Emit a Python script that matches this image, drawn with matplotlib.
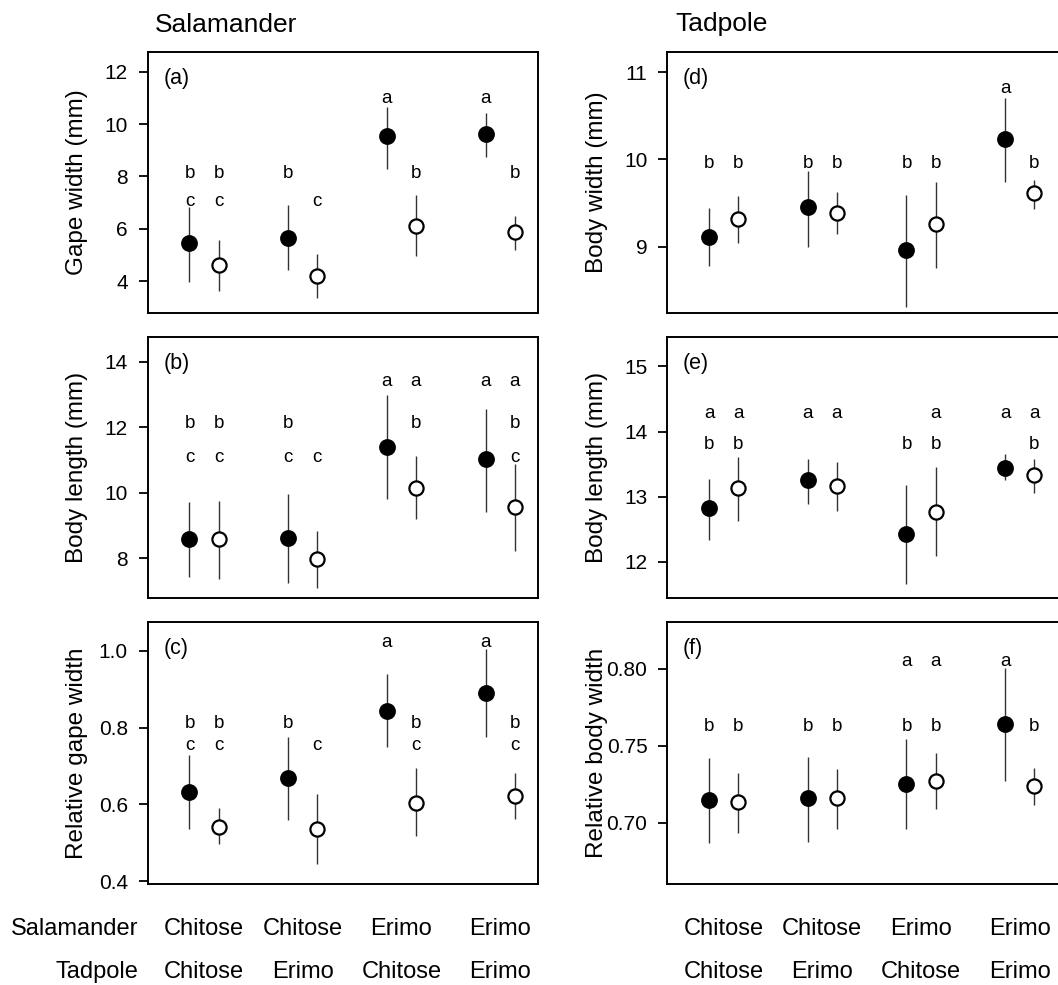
import matplotlib
matplotlib.use('Agg')
import matplotlib.pyplot as plt
import matplotlib.transforms as mtransforms
import numpy as np

plt.rcParams['font.family'] = ['Liberation Sans', 'DejaVu Sans']

# ---------------- data ----------------
groups = [1, 2, 3, 4]
salamander_origin = ['Chitose', 'Chitose', 'Erimo', 'Erimo']
tadpole_origin = ['Chitose', 'Erimo', 'Chitose', 'Erimo']

# (a) Gape width (mm) - salamander
a_filled_mean = [5.44, 5.66, 9.54, 9.61]
a_filled_lo = [3.96, 4.42, 8.27, 8.75]
a_filled_hi = [6.84, 6.91, 10.66, 10.41]
a_open_mean = [4.61, 4.19, 6.12, 5.86]
a_open_lo = [3.63, 3.34, 4.96, 5.19]
a_open_hi = [5.57, 5.03, 7.29, 6.49]

# (b) Body length (mm) - salamander
b_filled_mean = [8.58, 8.61, 11.39, 11.03]
b_filled_lo = [7.42, 7.25, 9.81, 9.43]
b_filled_hi = [9.73, 9.97, 13.00, 12.56]
b_open_mean = [8.58, 7.97, 10.16, 9.58]
b_open_lo = [7.36, 7.08, 9.19, 8.23]
b_open_hi = [9.75, 8.84, 11.13, 10.88]

# (c) Relative gape width - salamander
c_filled_mean = [0.633, 0.670, 0.844, 0.890]
c_filled_lo = [0.535, 0.559, 0.750, 0.775]
c_filled_hi = [0.730, 0.776, 0.939, 1.004]
c_open_mean = [0.542, 0.537, 0.605, 0.622]
c_open_lo = [0.496, 0.446, 0.519, 0.561]
c_open_hi = [0.590, 0.627, 0.694, 0.683]

# (d) Body width (mm) - tadpole
d_filled_mean = [9.11, 9.45, 8.96, 10.23]
d_filled_lo = [8.78, 9.00, 8.31, 9.74]
d_filled_hi = [9.44, 9.87, 9.59, 10.70]
d_open_mean = [9.32, 9.39, 9.26, 9.61]
d_open_lo = [9.04, 9.14, 8.75, 9.43]
d_open_hi = [9.58, 9.63, 9.74, 9.76]

# (e) Body length (mm) - tadpole
e_filled_mean = [12.82, 13.25, 12.43, 13.44]
e_filled_lo = [12.33, 12.89, 11.66, 13.25]
e_filled_hi = [13.27, 13.58, 13.18, 13.65]
e_open_mean = [13.13, 13.16, 12.77, 13.33]
e_open_lo = [12.62, 12.78, 12.09, 13.06]
e_open_hi = [13.61, 13.54, 13.46, 13.58]

# (f) Relative body width - tadpole
f_filled_mean = [0.7146, 0.7157, 0.7250, 0.7639]
f_filled_lo = [0.6864, 0.6876, 0.6961, 0.7268]
f_filled_hi = [0.7418, 0.7424, 0.7546, 0.8005]
f_open_mean = [0.7131, 0.7157, 0.7268, 0.7235]
f_open_lo = [0.6929, 0.6961, 0.7085, 0.7115]
f_open_hi = [0.7324, 0.7348, 0.7450, 0.7355]

# significance letters: order F1, O1, F2, O2, F3, O3, F4, O4
a_letters_row_a = ['', '', '', '', 'a', '', 'a', '']
a_letters_row_b = ['b', 'b', 'b', '', '', 'b', '', 'b']
a_letters_row_c = ['c', 'c', '', 'c', '', '', '', '']
b_letters_row_a = ['', '', '', '', 'a', 'a', 'a', 'a']
b_letters_row_b = ['b', 'b', 'b', '', '', 'b', '', 'b']
b_letters_row_c = ['c', 'c', 'c', 'c', '', '', '', 'c']
c_letters_row_a = ['', '', '', '', 'a', '', 'a', '']
c_letters_row_b = ['b', 'b', 'b', '', '', 'b', '', 'b']
c_letters_row_c = ['c', 'c', '', 'c', '', 'c', '', 'c']
d_letters_row_a = ['', '', '', '', '', '', 'a', '']
d_letters_row_b = ['b', 'b', 'b', 'b', 'b', 'b', '', 'b']
e_letters_row_a = ['a', 'a', 'a', 'a', '', 'a', 'a', 'a']
e_letters_row_b = ['b', 'b', '', '', 'b', 'b', '', 'b']
f_letters_row_a = ['', '', '', '', 'a', 'a', 'a', '']
f_letters_row_b = ['b', 'b', 'b', 'b', 'b', 'b', '', 'b']

panels = [
    dict(tag='(a)', ylabel='Gape width (mm)', ylim=(2.77, 12.77), yticks=[4, 6, 8, 10, 12],
         yticklabels=['4', '6', '8', '10', '12'],
         fm=a_filled_mean, flo=a_filled_lo, fhi=a_filled_hi,
         om=a_open_mean, olo=a_open_lo, ohi=a_open_hi,
         letters=[(0.805, a_letters_row_a), (0.516, a_letters_row_b), (0.410, a_letters_row_c)]),
    dict(tag='(b)', ylabel='Body length (mm)', ylim=(6.78, 14.77), yticks=[8, 10, 12, 14],
         yticklabels=['8', '10', '12', '14'],
         fm=b_filled_mean, flo=b_filled_lo, fhi=b_filled_hi,
         om=b_open_mean, olo=b_open_lo, ohi=b_open_hi,
         letters=[(0.812, b_letters_row_a), (0.652, b_letters_row_b), (0.522, b_letters_row_c)]),
    dict(tag='(c)', ylabel='Relative gape width', ylim=(0.392, 1.076), yticks=[0.4, 0.6, 0.8, 1.0],
         yticklabels=['0.4', '0.6', '0.8', '1.0'],
         fm=c_filled_mean, flo=c_filled_lo, fhi=c_filled_hi,
         om=c_open_mean, olo=c_open_lo, ohi=c_open_hi,
         letters=[(0.905, c_letters_row_a), (0.594, c_letters_row_b), (0.511, c_letters_row_c)]),
    dict(tag='(d)', ylabel='Body width (mm)', ylim=(8.236, 11.236), yticks=[9, 10, 11],
         yticklabels=['9', '10', '11'],
         fm=d_filled_mean, flo=d_filled_lo, fhi=d_filled_hi,
         om=d_open_mean, olo=d_open_lo, ohi=d_open_hi,
         letters=[(0.841, d_letters_row_a), (0.555, d_letters_row_b)]),
    dict(tag='(e)', ylabel='Body length (mm)', ylim=(11.44, 15.457), yticks=[12, 13, 14, 15],
         yticklabels=['12', '13', '14', '15'],
         fm=e_filled_mean, flo=e_filled_lo, fhi=e_filled_hi,
         om=e_open_mean, olo=e_open_lo, ohi=e_open_hi,
         letters=[(0.689, e_letters_row_a), (0.572, e_letters_row_b)]),
    dict(tag='(f)', ylabel='Relative body width', ylim=(0.6598, 0.8307), yticks=[0.70, 0.75, 0.80],
         yticklabels=['0.70', '0.75', '0.80'],
         fm=f_filled_mean, flo=f_filled_lo, fhi=f_filled_hi,
         om=f_open_mean, olo=f_open_lo, ohi=f_open_hi,
         letters=[(0.831, f_letters_row_a), (0.584, f_letters_row_b)]),
]

# ---------------- layout ----------------
W, H = 1058, 985
fig = plt.figure(figsize=(W / 100, H / 100), dpi=100)

col_left_px = [147.7, 667.3]
col_width_px = [390.0, 396.0]
row_px = [(51.7, 313.3), (336.7, 598.3), (621.7, 884.3)]
unit_px = 98.7
offset = 0.147

def px_axes(left, top, width, bottom):
    return [left / W, (H - bottom) / H, width / W, (bottom - top) / H]

axes = []
for col in range(2):
    for row in range(3):
        top, bottom = row_px[row]
        ax = fig.add_axes(px_axes(col_left_px[col], top, col_width_px[col], bottom))
        axes.append(ax)

x = np.array(groups, dtype=float)
xf = x - offset
xo = x + offset
line_col = '#333333'

for i, (ax, p) in enumerate(zip(axes, panels)):
    col = i // 3
    x0 = 1 - 56.3 / unit_px
    ax.set_xlim(x0, x0 + col_width_px[col] / unit_px)
    ax.set_ylim(*p['ylim'])
    ax.vlines(xf, p['flo'], p['fhi'], color=line_col, lw=1.0, zorder=2)
    ax.vlines(xo, p['olo'], p['ohi'], color=line_col, lw=1.0, zorder=2)
    ax.plot(xf, p['fm'], 'o', ms=10.8, mfc='black', mec='black', mew=1.3, zorder=3, ls='none')
    ax.plot(xo, p['om'], 'o', ms=10.2, mfc='white', mec='black', mew=1.6, zorder=3, ls='none')

    xs_all = np.ravel(np.column_stack([xf, xo]))
    trans = mtransforms.blended_transform_factory(ax.transData, ax.transAxes)
    for ypos, labs in p['letters']:
        for xx, lab in zip(xs_all, labs):
            if lab:
                ax.text(xx, ypos, lab, transform=trans, ha='center', va='baseline',
                        fontsize=13.5)

    ax.text(15.5 / col_width_px[col], 0.877, p['tag'], transform=ax.transAxes,
            ha='left', va='baseline', fontsize=15.5)

    ax.set_yticks(p['yticks'])
    ax.set_yticklabels(p['yticklabels'])
    ax.set_xticks([])
    ax.tick_params(axis='y', direction='out', length=6.8, width=1.3, pad=7.5, labelsize=15)
    for s in ax.spines.values():
        s.set_linewidth(1.4)
    ax.set_ylabel(p['ylabel'], fontsize=17.5, va='center')
    ax.yaxis.set_label_coords(-70.5 / col_width_px[col], 0.5)

# column titles
fig.text(155 / W, (H - 31.7) / H, 'Salamander', fontsize=19, ha='left', va='baseline')
fig.text(675 / W, (H - 31.0) / H, 'Tadpole', fontsize=19, ha='left', va='baseline')

# bottom treatment labels
row1_base = (H - 935) / H
row2_base = (H - 978) / H
fig.text(138 / W, row1_base, 'Salamander', fontsize=17, ha='right', va='baseline')
fig.text(138 / W, row2_base, 'Tadpole', fontsize=17, ha='right', va='baseline')
for ax in (axes[2], axes[5]):
    tr = mtransforms.blended_transform_factory(ax.transData, fig.transFigure)
    for g, s, t in zip(groups, salamander_origin, tadpole_origin):
        fig.text(g, row1_base, s, transform=tr, fontsize=17, ha='center', va='baseline')
        fig.text(g, row2_base, t, transform=tr, fontsize=17, ha='center', va='baseline')

fig.savefig('out.png', dpi=100)
